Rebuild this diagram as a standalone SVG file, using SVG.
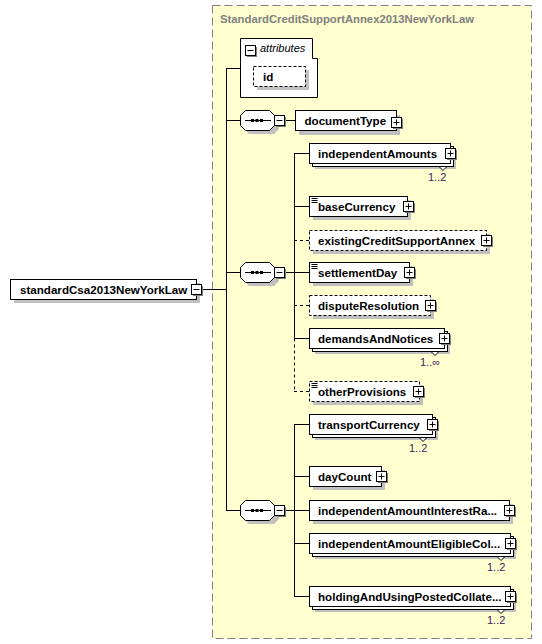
<svg xmlns="http://www.w3.org/2000/svg" width="542" height="644" viewBox="0 0 542 644">
<style>
text{font-family:"Liberation Sans",Arial,sans-serif;font-size:11px}
.b{font-weight:bold;fill:#000;font-size:11.6px}
.title{font-weight:bold;fill:#808080;font-size:11.3px}
.card{fill:#402060}
.box{fill:#fff;stroke:#000;stroke-width:1}
.dbox{fill:#fff;stroke:#000;stroke-width:1;stroke-dasharray:3,2}
.sh{fill:#c0c0c0}
.ln{fill:none;stroke:#000;stroke-width:1}
.dl{fill:none;stroke:#000;stroke-width:1;stroke-dasharray:3,3}
.pm{fill:#fff;stroke:#000;stroke-width:1}
</style>
<defs>
<g id="plus"><rect x="1.5" y="1.5" width="10" height="10" fill="#808080"/><rect class="pm" x="0" y="0" width="10" height="10"/><path class="ln" d="M2,5H8M5,2V8"/></g>
<g id="minus"><rect x="1.5" y="1.5" width="10" height="10" fill="#808080"/><rect class="pm" x="0" y="0" width="10" height="10"/><path class="ln" d="M2,5H8"/></g>
<g id="doc"><path class="ln" d="M2,2H8M2,4H8M2,6H8"/></g>
<g id="seq"><polygon class="sh" points="9,4 34,4 39,9 39,19 34,24 9,24 4,19 4,9"/><polygon class="box" points="5.5,0.5 29.5,0.5 34.5,5.5 34.5,15.5 29.5,20.5 5.5,20.5 0.5,15.5 0.5,5.5"/><path class="ln" d="M5,10.5H31"/><rect x="11" y="9" width="3" height="3"/><rect x="15.5" y="9" width="3" height="3"/><rect x="20" y="9" width="3" height="3"/></g>
<polygon id="notch" points="-4,0 0,4 4,0" fill="#fff" stroke="#000" stroke-width="1"/>
</defs>
<rect x="0" y="0" width="542" height="644" fill="#fff"/>
<g id="container">
<rect x="212.5" y="5.5" width="319" height="633" fill="#ffffd0" stroke="#808080" stroke-width="1" stroke-dasharray="8,4"/>
<text class="title" x="220" y="23">StandardCreditSupportAnnex2013NewYorkLaw</text>
</g>
<g id="connectors">
<path class="ln" d="M202,289.5H226.5M226.5,68V510.5M226,68.5H240M226,120.5H240M226,272.5H240M226,510.5H240"/>
<path class="ln" d="M285,120.5H295.5"/>
<path class="ln" d="M285,272.5H309M294.5,153V338.5M294,153.5H309M294,206.5H309M294,338.5H309"/>
<path class="dl" d="M294.5,338.5V391.5M294,240.5H309M294,305.5H309M294,391.5H309"/>
<path class="ln" d="M285,510.5H309M294.5,424V597M294,424.5H309M294,476.5H309M294,543.5H309M294,596.5H309"/>
</g>
<g id="standardCsa2013NewYorkLaw">
<rect class="sh" x="14" y="283" width="186" height="20"/>
<rect class="box" x="10.5" y="279.5" width="186" height="20"/>
<text class="b" x="20" y="293.5">standardCsa2013NewYorkLaw</text>
<use href="#minus" x="191.5" y="284.5"/>
</g>
<g id="attributes">
<path class="box" d="M240.5,38.5H312.5V58.5H317.5V97.5H240.5Z"/>
<use href="#minus" x="245.5" y="45.5"/>
<text x="260" y="52" font-style="italic">attributes</text>
</g>
<g id="id">
<rect class="sh" x="257" y="70" width="52" height="20"/>
<rect class="dbox" x="253.5" y="66.5" width="52" height="20"/>
<text class="b" x="263" y="80.5">id</text>
</g>
<g id="sequence1"><use href="#seq" x="240" y="110"/><use href="#minus" x="274.5" y="115.5"/></g>
<g id="sequence2"><use href="#seq" x="240" y="262"/><use href="#minus" x="274.5" y="267.5"/></g>
<g id="sequence3"><use href="#seq" x="240" y="500"/><use href="#minus" x="274.5" y="505.5"/></g>
<g id="documentType">
<rect class="sh" x="299" y="115" width="101" height="20"/>
<rect class="box" x="295.5" y="110.5" width="101" height="20"/>
<text class="b" x="304.5" y="124.5">documentType</text>
<use href="#plus" x="391.5" y="117.5"/>
</g>
<g id="independentAmounts">
<rect class="sh" x="315" y="149" width="141" height="20"/>
<rect class="box" x="312.5" y="146.5" width="141" height="20"/>
<rect class="box" x="309.5" y="143.5" width="141" height="20"/>
<text class="b" x="318" y="157.5">independentAmounts</text>
<use href="#plus" x="445.5" y="148.5"/>
<use href="#notch" x="443" y="166.5"/>
<text class="card" x="428" y="181">1..2</text>
</g>
<g id="baseCurrency">
<rect class="sh" x="313" y="200" width="98" height="20"/>
<rect class="box" x="309.5" y="196.5" width="98" height="20"/>
<use href="#doc" x="309.5" y="196.5"/>
<text class="b" x="318" y="210.5">baseCurrency</text>
<use href="#plus" x="403.5" y="201.5"/>
</g>
<g id="existingCreditSupportAnnex">
<rect class="sh" x="313" y="234" width="177" height="20"/>
<rect class="dbox" x="309.5" y="230.5" width="177" height="20"/>
<text class="b" x="318" y="244.5">existingCreditSupportAnnex</text>
<use href="#plus" x="481.5" y="235.5"/>
</g>
<g id="settlementDay">
<rect class="sh" x="313" y="266" width="100" height="20"/>
<rect class="box" x="309.5" y="262.5" width="100" height="20"/>
<use href="#doc" x="309.5" y="262.5"/>
<text class="b" x="318" y="276.5">settlementDay</text>
<use href="#plus" x="404.5" y="267.5"/>
</g>
<g id="disputeResolution">
<rect class="sh" x="313" y="299" width="121" height="20"/>
<rect class="dbox" x="309.5" y="295.5" width="121" height="20"/>
<text class="b" x="318" y="309.5">disputeResolution</text>
<use href="#plus" x="425.5" y="300.5"/>
</g>
<g id="demandsAndNotices">
<rect class="sh" x="315" y="334" width="135" height="20"/>
<rect class="box" x="312.5" y="331.5" width="135" height="20"/>
<rect class="box" x="309.5" y="328.5" width="135" height="20"/>
<text class="b" x="318" y="342.5">demandsAndNotices</text>
<use href="#plus" x="439.5" y="333.5"/>
<use href="#notch" x="435" y="351.5"/>
<text class="card" x="420" y="366">1..∞</text>
</g>
<g id="otherProvisions">
<rect class="sh" x="313" y="385" width="110" height="20"/>
<rect class="dbox" x="309.5" y="381.5" width="110" height="20"/>
<use href="#doc" x="309.5" y="381.5"/>
<text class="b" x="318" y="395.5">otherProvisions</text>
<use href="#plus" x="413.5" y="386.5"/>
</g>
<g id="transportCurrency">
<rect class="sh" x="315" y="420" width="123" height="20"/>
<rect class="box" x="312.5" y="417.5" width="123" height="20"/>
<rect class="box" x="309.5" y="414.5" width="123" height="20"/>
<text class="b" x="318" y="428.5">transportCurrency</text>
<use href="#plus" x="427.5" y="419.5"/>
<use href="#notch" x="423" y="437.5"/>
<text class="card" x="409" y="452">1..2</text>
</g>
<g id="dayCount">
<rect class="sh" x="313" y="470" width="72" height="20"/>
<rect class="box" x="309.5" y="466.5" width="72" height="20"/>
<text class="b" x="318" y="480.5">dayCount</text>
<use href="#plus" x="376.5" y="471.5"/>
</g>
<g id="independentAmountInterestRate">
<rect class="sh" x="313" y="504" width="200" height="20"/>
<rect class="box" x="309.5" y="500.5" width="200" height="20"/>
<text class="b" x="318" y="514.5">independentAmountInterestRa...</text>
<use href="#plus" x="504.5" y="505.5"/>
</g>
<g id="independentAmountEligibleCollateral">
<rect class="sh" x="315" y="539" width="201" height="20"/>
<rect class="box" x="312.5" y="536.5" width="201" height="20"/>
<rect class="box" x="309.5" y="533.5" width="201" height="20"/>
<text class="b" x="318" y="547.5">independentAmountEligibleCol...</text>
<use href="#plus" x="505.5" y="538.5"/>
<use href="#notch" x="501" y="556.5"/>
<text class="card" x="487" y="571">1..2</text>
</g>
<g id="holdingAndUsingPostedCollateral">
<rect class="sh" x="315" y="592" width="201" height="20"/>
<rect class="box" x="312.5" y="589.5" width="201" height="20"/>
<rect class="box" x="309.5" y="586.5" width="201" height="20"/>
<text class="b" x="318" y="600.5">holdingAndUsingPostedCollate...</text>
<use href="#plus" x="505.5" y="591.5"/>
<use href="#notch" x="501" y="609.5"/>
<text class="card" x="487" y="624">1..2</text>
</g>
</svg>
